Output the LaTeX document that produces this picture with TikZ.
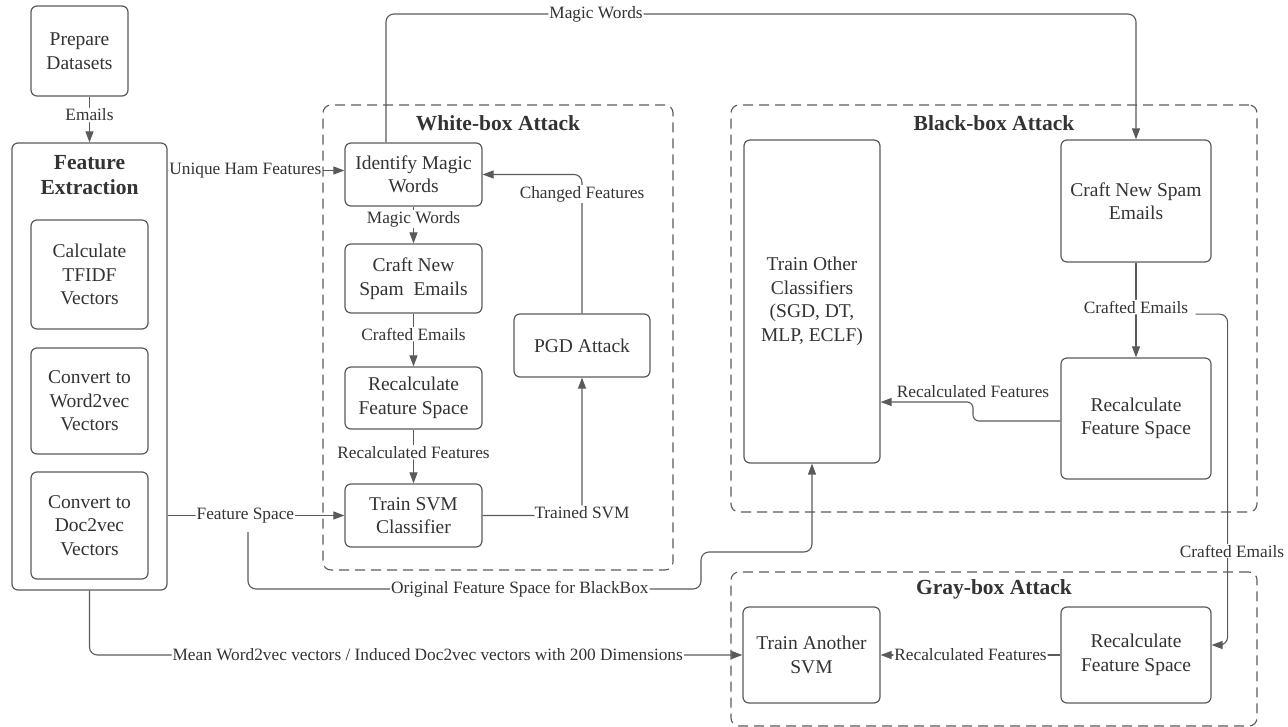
\documentclass[tikz,border=0pt]{standalone}
\usepackage{fontspec}
\setmainfont{Liberation Serif}
\newfontfamily\lserif{Liberation Serif}
\usetikzlibrary{arrows.meta}
\definecolor{ln}{HTML}{5A5A5A}
\definecolor{tx}{HTML}{333333}
\tikzset{
  box/.style={draw=ln, line width=1.2pt, rounded corners=6pt, align=center, inner sep=0pt, text=tx, font=\lserif\fontsize{19.5}{23.5}\selectfont},
  cont/.style={draw=ln, line width=1.1pt, dash pattern=on 10pt off 6pt, rounded corners=8pt, inner sep=0pt},
  ttl/.style={font=\lserif\bfseries\fontsize{21.5}{25}\selectfont, text=tx, align=center},
  lbl/.style={font=\lserif\fontsize{17.3}{20}\selectfont, text=tx, fill=white, inner sep=1pt},
  conn/.style={draw=ln, line width=1.1pt, rounded corners=8pt},
  arr/.style={conn, -{Triangle[length=11pt,width=8pt]}},
}
\begin{document}
\begin{tikzpicture}[x=1pt,y=-1pt]
\useasboundingbox (0,0) rectangle (1288,727);
% containers
\node[cont, minimum width=350pt, minimum height=465pt] (wb) at (498,337.5) {};
\node[cont, minimum width=526pt, minimum height=407pt] (bb) at (994,308.5) {};
\node[cont, minimum width=526pt, minimum height=154pt] (gb) at (994,649) {};
\node[ttl] (wbt) at (498,123) {White-box Attack};
\node[ttl] (bbt) at (994,123) {Black-box Attack};
\node[ttl] (gbt) at (994,589) {Gray-box Attack};
% left column
\node[box, minimum width=97pt, minimum height=90pt] (prep) at (79.5,51) {Prepare\\Datasets};
\node[box, minimum width=155pt, minimum height=447pt] (fe) at (89.5,366.5) {};
\node[ttl] (fet) at (89.5,175.5) {Feature\\Extraction};
\node[box, minimum width=117pt, minimum height=109pt] (tfidf) at (89.5,274.5) {Calculate\\TFIDF\\Vectors};
\node[box, minimum width=117pt, minimum height=106pt] (w2v) at (89.5,401) {Convert to\\Word2vec\\Vectors};
\node[box, minimum width=117pt, minimum height=107pt] (d2v) at (89.5,525.5) {Convert to\\Doc2vec\\Vectors};
% white-box
\node[box, minimum width=137pt, minimum height=63pt] (ident) at (413.5,174.5) {Identify Magic\\Words};
\node[box, minimum width=137pt, minimum height=69pt] (craftW) at (413.5,278.5) {Craft New\\Spam~ Emails};
\node[box, minimum width=137pt, minimum height=62pt] (recalcW) at (413.5,398) {Recalculate\\Feature Space};
\node[box, minimum width=137pt, minimum height=63pt] (svm) at (413.5,515.5) {Train SVM\\Classifier};
\node[box, minimum width=136pt, minimum height=63pt] (pgd) at (582,345.5) {PGD Attack};
% black-box
\node[box, minimum width=136pt, minimum height=323pt] (other) at (812,301.5) {Train Other\\Classifiers\\(SGD, DT,\\MLP, ECLF)};
\node[box, minimum width=150pt, minimum height=122pt] (craftB) at (1136,201) {Craft New Spam\\Emails};
\node[box, minimum width=150pt, minimum height=121pt] (recalcB) at (1136,418.5) {Recalculate\\Feature Space};
% gray-box
\node[box, minimum width=137pt, minimum height=96pt] (another) at (811.5,655) {Train Another\\SVM};
\node[box, minimum width=150pt, minimum height=96pt] (recalcG) at (1136,655) {Recalculate\\Feature Space};
% connectors
\draw[arr] (prep.south -| fe.north) -- node[lbl,pos=0.4]{Emails} (fe.north);
\coordinate (uh) at ([yshift=4pt]ident.west);
\draw[arr] (fe.east |- uh) -- node[lbl,pos=0.44]{Unique Ham Features} (uh);
\draw[arr] (fe.east |- svm.west) -- node[lbl,pos=0.44]{Feature Space} (svm.west);
\draw[arr] (ident.south) -- node[lbl,pos=0.34]{Magic Words} (craftW.north);
\draw[arr] (craftW.south) -- node[lbl,pos=0.39]{Crafted Emails} (recalcW.north);
\draw[arr] (recalcW.south) -- node[lbl,pos=0.42]{Recalculated Features} (svm.north);
\draw[arr] (svm.east) -| node[lbl,pos=0.5,yshift=3pt]{Trained SVM} (pgd.south);
\draw[arr] (pgd.north) |- node[lbl,pos=0.43]{Changed Features} (ident.east);
\draw[arr] ([xshift=-27.5pt]ident.north) |- (596,14) node[lbl]{Magic Words} -| (craftB.north);
\draw[arr] (craftB.south) -- node[lbl,pos=0.47] (ce) {Crafted Emails} (recalcB.north);
\draw[arr] ([xshift=6pt,yshift=-7pt]ce.east) -| ([xshift=16pt,yshift=10pt]recalcG.east) -- ([yshift=10pt]recalcG.east);
\node[lbl] (ce2) at (1232,551) {Crafted Emails};
\coordinate (j1) at (973,421);
\coordinate (j2) at (973,402);
\draw[arr, rounded corners=6pt] (recalcB.west |- j1) -- (j1) -- (j2) node[lbl, fill=none, above=3pt]{Recalculated Features} -- (other.east |- j2);
\draw[arr] (recalcG.west) -- node[lbl]{Recalculated Features} (another.east);
\draw[arr] (fe.south) |- node[lbl,pos=0.759]{Mean Word2vec vectors / Induced Doc2vec vectors with 200 Dimensions} (another.west);
\coordinate (ofs) at (248,532);
\coordinate (j3) at (701,589);
\coordinate (j4) at (701,552);
\draw[arr] (ofs) -- (ofs |- j3) -- node[lbl,pos=0.6]{Original Feature Space for BlackBox} (j3) -- (j4) -- (other.south |- j4) -- (other.south);
\end{tikzpicture}
\end{document}
